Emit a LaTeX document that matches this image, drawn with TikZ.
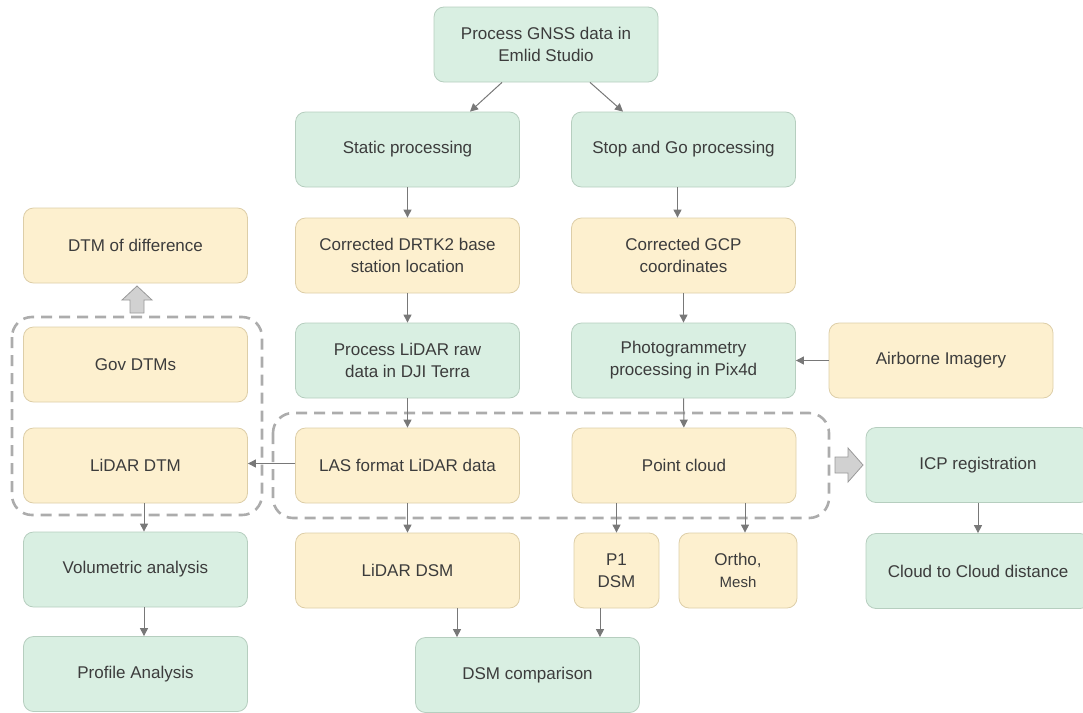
\documentclass[tikz,border=0pt]{standalone}
\usepackage{fontspec}
\setmainfont{Liberation Sans}
\usetikzlibrary{arrows.meta}
\definecolor{greenfill}{RGB}{217,239,226}
\definecolor{greenline}{RGB}{182,206,191}
\definecolor{yellowfill}{RGB}{253,240,207}
\definecolor{yellowline}{RGB}{221,206,168}
\definecolor{linkgray}{RGB}{120,120,120}
\definecolor{dashgray}{RGB}{172,172,172}
\definecolor{textgray}{RGB}{60,60,60}
\tikzset{
  box/.style={rounded corners=10pt, line width=0.8pt, minimum width=224pt,
    minimum height=75pt, align=center, text=textgray,
    font=\fontsize{17}{22}\selectfont},
  greenbox/.style={box, fill=greenfill, draw=greenline},
  yellowbox/.style={box, fill=yellowfill, draw=yellowline},
  link/.style={draw=linkgray, line width=1pt,
    -{Triangle[width=8pt,length=8pt]}},
  groupframe/.style={draw=dashgray, line width=2.6pt, rounded corners=20pt,
    dash pattern=on 11pt off 7pt},
  blockarrow/.style={fill=black!18, draw=black!40, line width=0.8pt}
}
\begin{document}
\begin{tikzpicture}[x=1pt,y=-1pt]
      \useasboundingbox (0,0) rectangle (1083,712);
      % dashed groups
      \draw[groupframe] (12,317) rectangle (262,515);
      \draw[groupframe] (273,413) rectangle (829,518);
      % GNSS branch
      \node[greenbox] (gnss) at (546,44.5) {Process GNSS data in\\Emlid Studio};
      \node[greenbox] (static) at (407.5,149.5) {Static processing};
      \node[greenbox] (stopgo) at (683.5,149.5) {Stop and Go processing};
      \node[yellowbox] (drtk) at (407.5,255.5) {Corrected DRTK2 base\\station location};
      \node[yellowbox] (gcp) at (683.5,255.5) {Corrected GCP\\coordinates};
      \node[greenbox] (lidarraw) at (407.5,360.5) {Process LiDAR raw\\data in DJI Terra};
      \node[greenbox] (photo) at (683.5,360.5) {Photogrammetry\\processing in Pix4d};
      \node[yellowbox] (airborne) at (941,360.5) {Airborne Imagery};
      \node[yellowbox] (las) at (407.5,465.5) {LAS format LiDAR data};
      \node[yellowbox] (cloud) at (684,465.5) {Point cloud};
      \node[greenbox] (icp) at (978,465) {ICP registration};
      \node[greenbox] (ctoc) at (978,571) {Cloud to Cloud distance};
      % DTM side
      \node[yellowbox] (dtmdiff) at (135.5,245.5) {DTM of difference};
      \node[yellowbox] (govdtm) at (135.5,364.5) {Gov DTMs};
      \node[yellowbox] (lidardtm) at (135.5,465.5) {LiDAR DTM};
      \node[greenbox] (volume) at (135.5,569.5) {Volumetric analysis};
      \node[greenbox] (profile) at (135.5,674) {Profile Analysis};
      % DSM side
      \node[yellowbox] (lidardsm) at (407.5,570.5) {LiDAR DSM};
      \node[yellowbox, minimum width=85pt] (pdsm) at (616.5,570.5) {P1\\DSM};
      \node[yellowbox, minimum width=118pt] (ortho) at (738,570.5)
        {Ortho,\\{\fontsize{15}{20}\selectfont Mesh}};
      \node[greenbox] (dsmcomp) at (527.5,675) {DSM comparison};
      \begin{scope}[link]
        \draw ([xshift=-44pt]gnss.south) to ([xshift=62.5pt]static.north);
        \draw ([xshift=44pt]gnss.south) to ([xshift=-60.5pt]stopgo.north);
        \draw (static) to (drtk);
        \draw ([xshift=-6pt]stopgo.south) to ([xshift=-6pt]gcp.north);
        \draw (drtk) to (lidarraw);
        \draw (gcp) to (photo);
        \draw (airborne.west |- photo.east) to (photo.east);
        \draw (lidarraw) to (las);
        \draw (photo) to (cloud);
        \draw ([yshift=2pt]las.west) to ([yshift=2pt]lidardtm.east);
        \draw ([xshift=8.5pt]lidardtm.south) to ([xshift=8.5pt]volume.north);
        \draw ([xshift=8.5pt]volume.south) to ([xshift=8.5pt]profile.north);
        \draw (las) to (lidardsm);
        \draw (pdsm.north |- cloud.south) to (pdsm.north);
        \draw ([xshift=7pt]ortho.north |- cloud.south) to ([xshift=7pt]ortho.north);
        \draw ([xshift=49.5pt]lidardsm.south) to ([xshift=49.5pt]lidardsm.south |- dsmcomp.north);
        \draw ([xshift=-16.5pt]pdsm.south) to ([xshift=-16.5pt]pdsm.south |- dsmcomp.north);
        \draw (icp) to (ctoc);
      \end{scope}
      % block arrows
      \draw[blockarrow] (130,313) -- (144,313) -- (144,300) -- (152,300)
        -- (137,286) -- (122,300) -- (130,300) -- cycle;
      \draw[blockarrow] (835,457) -- (848,457) -- (848,448) -- (863,465)
        -- (848,482) -- (848,473) -- (835,473) -- cycle;
    \end{tikzpicture}
\end{document}
